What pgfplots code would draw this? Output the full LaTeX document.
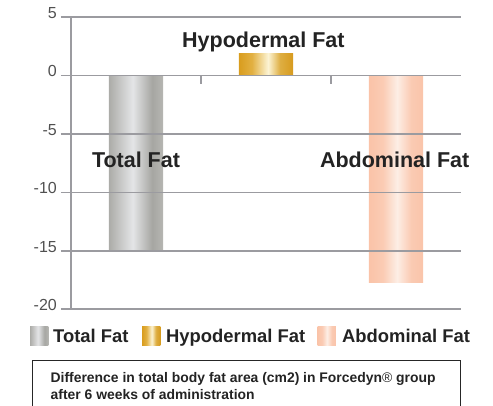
\documentclass[border=0pt]{standalone}
\usepackage{fontspec}
\setmainfont{Liberation Sans}
\usepackage{pgfplots}
\pgfplotsset{compat=1.18}

\definecolor{gridgray}{RGB}{155,155,160}
\definecolor{tickgray}{RGB}{80,80,80}
\definecolor{labeltxt}{RGB}{35,35,35}

% bar fills: horizontal shadings, the useful part is 25bp..75bp
\definecolor{g1}{RGB}{172,172,168}
\definecolor{g2}{RGB}{228,229,231}
\definecolor{g3}{RGB}{166,166,162}
\definecolor{g4}{RGB}{182,182,178}
\definecolor{au1}{RGB}{217,157,30}
\definecolor{au2}{RGB}{226,176,66}
\definecolor{au3}{RGB}{252,244,212}
\definecolor{au4}{RGB}{222,174,66}
\definecolor{au5}{RGB}{215,155,30}
\definecolor{sa1}{RGB}{250,195,168}
\definecolor{sa2}{RGB}{253,238,229}
\definecolor{sa3}{RGB}{250,196,170}
\pgfdeclarehorizontalshading{grayshade}{100bp}{%
  color(0bp)=(g1); color(25bp)=(g1); color(47bp)=(g2);
  color(65bp)=(g3); color(75bp)=(g4); color(100bp)=(g4)}
\pgfdeclarehorizontalshading{goldshade}{100bp}{%
  color(0bp)=(au1); color(25bp)=(au1); color(37bp)=(au2);
  color(52bp)=(au3); color(63bp)=(au4); color(75bp)=(au5); color(100bp)=(au5)}
\pgfdeclarehorizontalshading{salmonshade}{100bp}{%
  color(0bp)=(sa1); color(25bp)=(sa1); color(38bp)=(sa1!80!sa2);
  color(51bp)=(sa2); color(64bp)=(sa3!85!sa2); color(75bp)=(sa3); color(100bp)=(sa3)}

\newcommand\lblfont{\fontsize{21.5}{21.5}\selectfont\bfseries}
\newcommand\legfont{\fontsize{18.4}{18.4}\selectfont\bfseries}
\newcommand\capfont{\fontsize{13.9}{13.9}\selectfont\bfseries}

\begin{document}
\begin{tikzpicture}[x=1pt,y=1pt]
\path[use as bounding box] (0,0) rectangle (493,406);

\begin{axis}[
  at={(71pt,96.7pt)}, anchor=south west,
  scale only axis, width=390pt, height=292.3pt,
  xmin=0.5, xmax=3.5, ymin=-20, ymax=5,
  ybar, bar width=54pt,
  axis x line=none, axis y line=left,
  axis line style={-, draw=gridgray, line width=1.6pt},
  ytick={-20,-15,-10,-5,0,5},
  yticklabels={-20,-15,-10,-5,0,5},
  yticklabel style={font=\fontsize{16}{16}\selectfont, text=tickgray,
    anchor=base east, inner sep=0pt, xshift=-4pt, yshift=-1.2pt},
  tick align=outside, major tick length=10pt,
  ytick style={draw=gridgray, line width=1.6pt},
  ymajorgrids, grid style={draw=gridgray, line width=1.6pt},
  axis on top, clip=false,
]
\addplot[draw=none, shading=grayshade, bar shift=0pt] coordinates {(1,-15)};
\addplot[draw=none, shading=goldshade, bar shift=0pt] coordinates {(2,1.9)};
\addplot[draw=none, shading=salmonshade, bar shift=0pt] coordinates {(3,-17.7)};

\draw[gridgray, line width=1.6pt] (axis cs:1.5,0) -- ([yshift=-8.5pt]axis cs:1.5,0);
\draw[gridgray, line width=1.6pt] (axis cs:2.5,0) -- ([yshift=-8.5pt]axis cs:2.5,0);

\node[anchor=base, text=labeltxt, font=\lblfont, inner sep=0pt] at (axis cs:1.0,-7.83) {Total Fat};
\node[anchor=base, text=labeltxt, font=\lblfont, inner sep=0pt] at (axis cs:1.98,2.4) {Hypodermal Fat};
\node[anchor=base, text=labeltxt, font=\lblfont, inner sep=0pt] at (axis cs:2.99,-7.83) {Abdominal Fat};
\end{axis}

% legend
\fill[shading=grayshade] (30,60) rectangle (48.3,79);
\node[anchor=base west, inner sep=0pt, text=labeltxt, font=\legfont] at (53,63) {Total Fat};
\fill[shading=goldshade] (142,60) rectangle (160.3,79);
\node[anchor=base west, inner sep=0pt, text=labeltxt, font=\legfont] at (166,63) {Hypodermal Fat};
\fill[shading=salmonshade] (317.5,60) rectangle (335.8,79);
\node[anchor=base west, inner sep=0pt, text=labeltxt, font=\legfont] at (342,63) {Abdominal Fat};

% caption box
\draw[black!85, line width=0.9pt] (32.3,-10) -- (32.3,46) -- (460.7,46) -- (460.7,-10);
\node[anchor=base west, inner sep=0pt, text=labeltxt, font=\capfont] at (50.5,23.5)
  {Difference in total body fat area (cm2) in Forcedyn{\normalfont\textregistered} group};
\node[anchor=base west, inner sep=0pt, text=labeltxt, font=\capfont] at (50.5,6.7)
  {after 6 weeks of administration};
\end{tikzpicture}
\end{document}
